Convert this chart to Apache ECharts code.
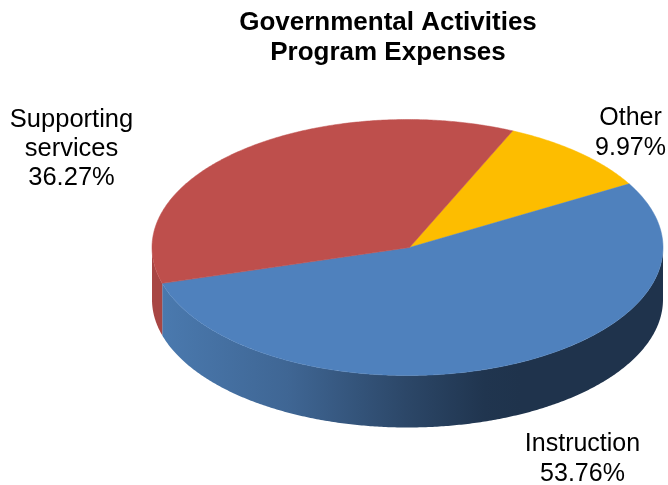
<!DOCTYPE html>
<html>
<head>
<meta charset="utf-8">
<style>html,body{margin:0;padding:0;background:#fff}#chart{width:668px;height:485px}</style>
<script src="https://cdn.jsdelivr.net/npm/echarts@6/dist/echarts.min.js"></script>
</head>
<body>
<div id="chart"></div>
<script>
// Program expense shares, percent of total
const categories = ['Other', 'Instruction', 'Supporting\nservices'];
const shares = [9.97, 53.76, 36.27];
const topColors = ['#fdbd00', '#4f81bd', '#be4f4c'];

// Tilted disc geometry
const cx = 407.5, cy = 247.5, rx = 255.5, ry = 128, depth = 52;
const apex = [409.5, 247.5];
const startDeg = 24.3;
const total = shares.reduce((a, b) => a + b, 0);
const labelAnchors = [[630.5, 133.5], [582.5, 459], [71.5, 148.5]];
const labelSizes = [25, 25, 25.5];
const labelLeading = [30, 30, 29];

const wallFills = [
  '#b88c00',
  new echarts.graphic.LinearGradient(163, 0, 520, 0, [
    { offset: 0, color: '#4a79ae' },
    { offset: 0.35, color: '#3f6694' },
    { offset: 0.68, color: '#2c4768' },
    { offset: 0.9, color: '#20354f' },
    { offset: 1, color: '#1f334c' }
  ], true),
  '#a84644'
];

const onRim = (deg, dy) => {
  const a = deg * Math.PI / 180;
  return [cx + rx * Math.sin(a), cy - ry * Math.cos(a) + (dy || 0)];
};

const arc = (from, to, dy) => {
  const pts = [];
  const n = Math.max(2, Math.ceil((to - from) / 0.5));
  for (let i = 0; i <= n; i++) pts.push(onRim(from + (to - from) * i / n, dy));
  return pts;
};

const sliceSpan = (i, value) => {
  const before = shares.slice(0, i).reduce((a, b) => a + b, 0);
  const a0 = startDeg + before / total * 360;
  return [a0, a0 + value / total * 360];
};

function renderWall(params, api) {
  const i = params.dataIndex;
  const [a0, a1] = sliceSpan(i, api.value(0));
  const children = [];

  // Outer wall is only visible along the near half of the rim
  const w0 = Math.max(a0, 90), w1 = Math.min(a1, 270);
  if (w1 > w0) {
    children.push({
      type: 'polygon',
      shape: { points: arc(w0, w1, 0).concat(arc(w0, w1, depth).reverse()) },
      style: { fill: wallFills[i] }
    });
  }
  return { type: 'group', children };
}

function renderTop(params, api) {
  const i = params.dataIndex;
  const [a0, a1] = sliceSpan(i, api.value(0));
  const pct = api.value(0).toFixed(2) + '%';
  return {
    type: 'group',
    children: [
      {
        type: 'polygon',
        shape: { points: [apex].concat(arc(a0, a1, 0)) },
        style: { fill: topColors[i], stroke: topColors[i], lineWidth: 0.5 }
      },
      {
        type: 'text',
        x: labelAnchors[i][0],
        y: labelAnchors[i][1],
        style: {
          text: categories[i] + '\n' + pct,
          fill: '#000',
          font: labelSizes[i] + 'px "Liberation Sans", Arial, sans-serif',
          lineHeight: labelLeading[i],
          align: 'center',
          verticalAlign: 'middle'
        }
      }
    ]
  };
}

const chart = echarts.init(document.getElementById('chart'), null, { renderer: 'canvas' });
chart.setOption({
  animation: false,
  backgroundColor: '#fff',
  title: {
    text: 'Governmental Activities\nProgram Expenses',
    left: 383,
    top: 3,
    textAlign: 'center',
    textStyle: {
      color: '#000',
      fontFamily: '"Liberation Sans", Arial, sans-serif',
      fontWeight: 'bold',
      fontSize: 26,
      lineHeight: 30
    }
  },
  series: [
    { type: 'custom', coordinateSystem: 'none', silent: true, renderItem: renderWall, data: shares, z: 1 },
    { type: 'custom', coordinateSystem: 'none', silent: true, renderItem: renderTop, data: shares, z: 2 }
  ]
});
</script>
</body>
</html>
